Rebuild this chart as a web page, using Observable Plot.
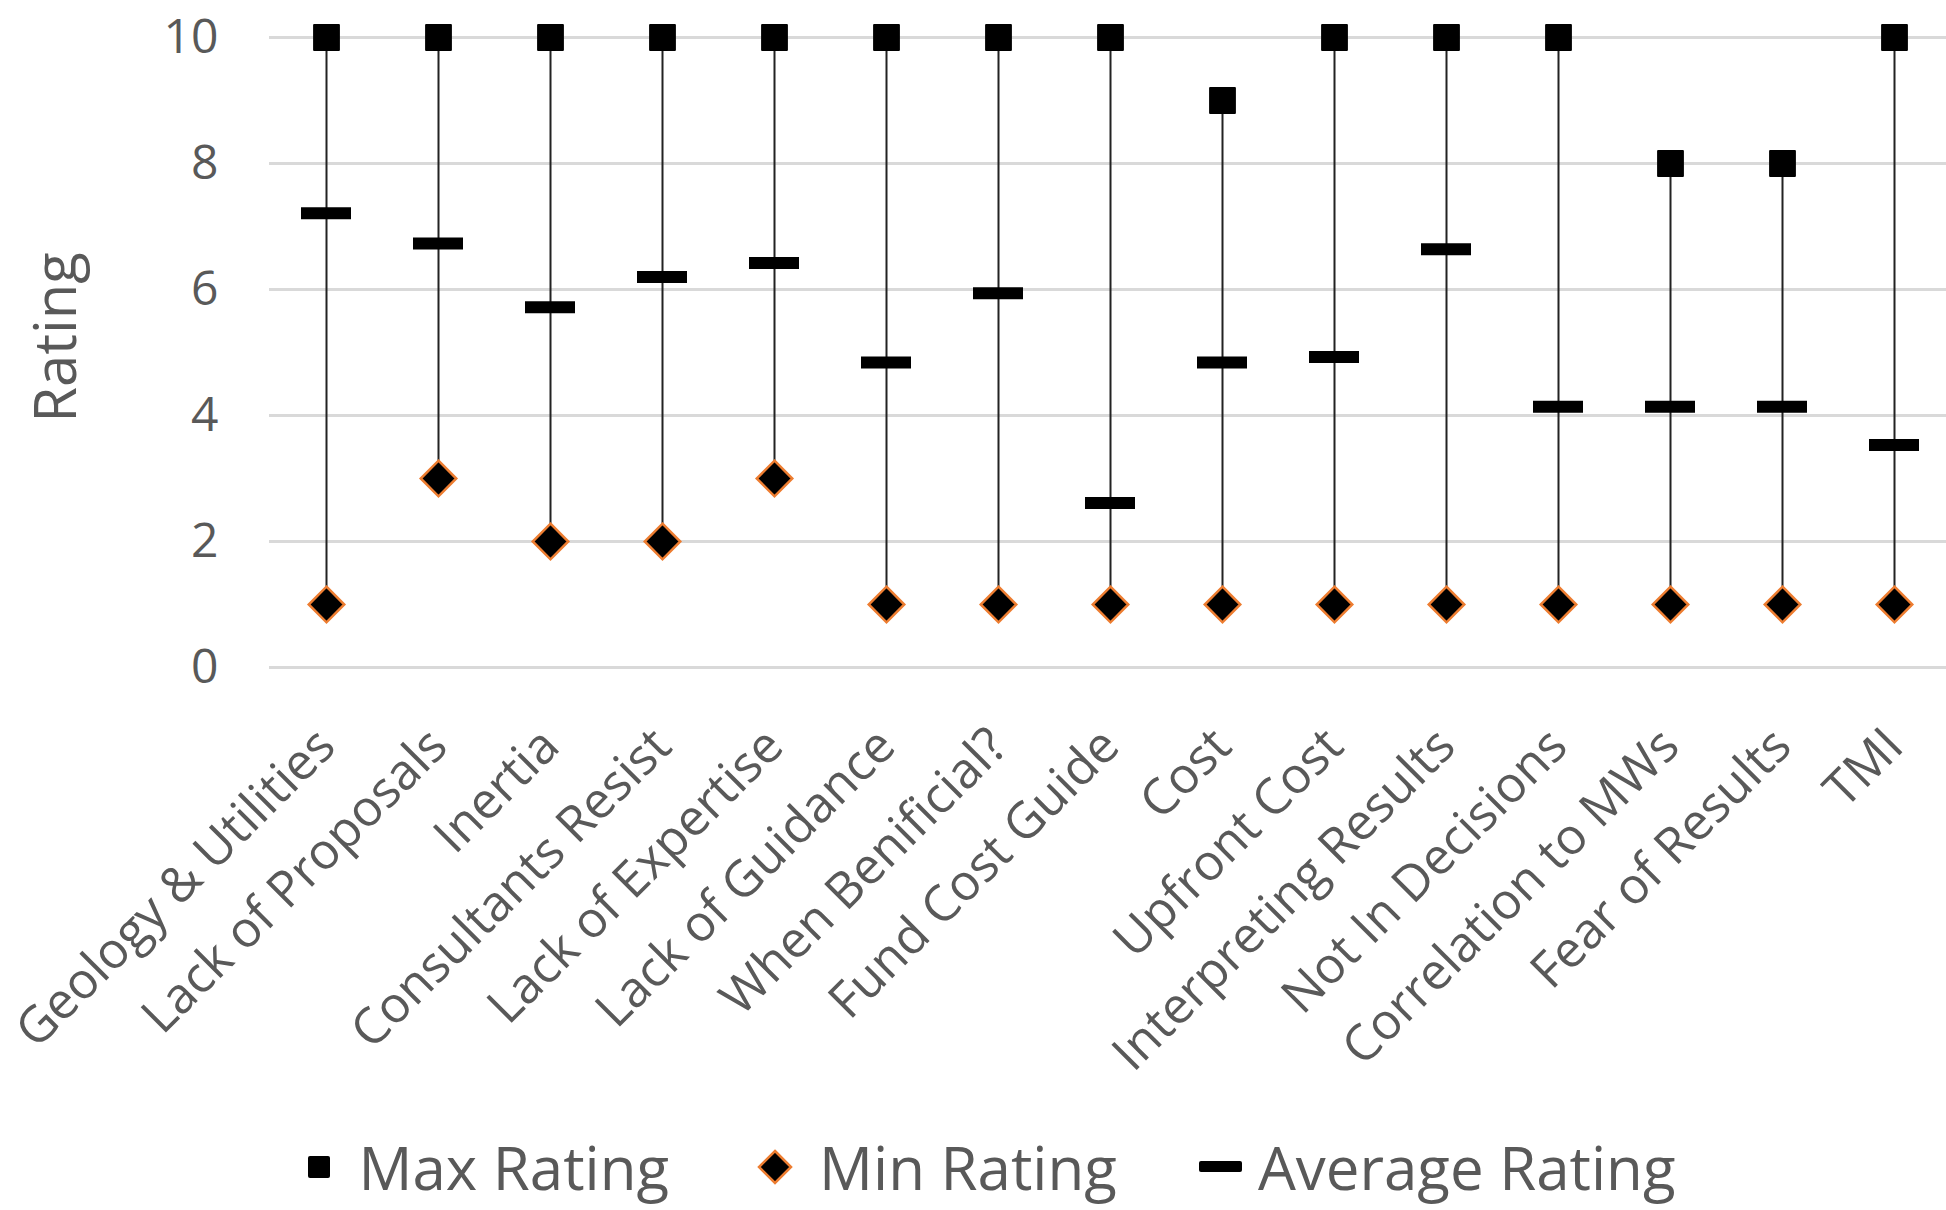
<!DOCTYPE html>
<html>
<head>
<meta charset="utf-8">
<script src="https://cdn.jsdelivr.net/npm/d3@7"></script>
<script src="https://cdn.jsdelivr.net/npm/@observablehq/plot@0.6"></script>
<style>
  html, body { margin: 0; padding: 0; background: #fff; }
  body { width: 1946px; height: 1210px; position: relative; overflow: hidden; font-family: "Open Sans", sans-serif; }
  #legend { position: absolute; left: 0; top: 1128px; width: 1946px; height: 78px; display: flex; align-items: center; justify-content: center; padding-left: 36px; box-sizing: border-box; color: #595959; font-size: 60px; line-height: 1.1; }
  #legend .item { display: flex; align-items: center; }
  #legend svg { display: block; }
</style>
</head>
<body>
<div id="chart"></div>
<div id="legend"></div>
<script>
const categories = ["Geology & Utilities", "Lack of Proposals", "Inertia", "Consultants Resist", "Lack of Expertise", "Lack of Guidance", "When Benificial?", "Fund Cost Guide", "Cost", "Upfront Cost", "Interpreting Results", "Not In Decisions", "Correlation to MWs", "Fear of Results", "TMI"];
const maxRating = [10, 10, 10, 10, 10, 10, 10, 10, 9, 10, 10, 10, 8, 8, 10];
const minRating = [1, 3, 2, 2, 3, 1, 1, 1, 1, 1, 1, 1, 1, 1, 1];
const avgRating = [7.21, 6.73, 5.72, 6.2, 6.42, 4.84, 5.94, 2.61, 4.84, 4.93, 6.64, 4.14, 4.14, 4.14, 3.53];
const yTicks = [0, 2, 4, 6, 8, 10];
const seriesNames = ["Max Rating", "Min Rating", "Average Rating"];

const data = categories.map((c, i) => ({cat: c, max: maxRating[i], min: minRating[i], avg: avgRating[i]}));

const textColor = "#595959";
const orange = "#ED7D31";

const chart = Plot.plot({
  width: 1946,
  height: 1120,
  marginTop: 37,
  marginBottom: 453,
  marginLeft: 269,
  marginRight: 0,
  style: {fontFamily: "'Open Sans', sans-serif", background: "#fff", overflow: "visible"},
  x: {domain: categories, range: [269, 1950], padding: 0},
  y: {domain: [0, 10]},
  marks: [
    Plot.ruleY(yTicks, {y: d => d, stroke: "#d9d9d9", strokeWidth: 3}),
    Plot.axisY({ticks: yTicks, tickSize: 0, tickPadding: 51, fontSize: 48, fill: textColor, label: null}),
    Plot.axisY({ticks: [], tickSize: 0, label: "Rating", labelAnchor: "center", labelArrow: "none", labelOffset: 235, fontSize: 58, fill: textColor}),
    Plot.axisX({tickSize: 0, tickRotate: -45, tickPadding: 70, fontSize: 50, fill: textColor, label: null}),
    Plot.ruleX(data, {x: "cat", y1: "min", y2: "max", stroke: "#222", strokeWidth: 2}),
    Plot.tickY(data, {x: "cat", y: "avg", stroke: "#000", strokeWidth: 12, insetLeft: 31, insetRight: 31}),
    Plot.dot(data, {x: "cat", y: "max", symbol: "square", r: 14, fill: "#000", stroke: "#000", strokeWidth: 2, strokeLinejoin: "round"}),
    Plot.dot(data, {x: "cat", y: "min", symbol: "diamond2", r: 16, fill: "#000", stroke: orange, strokeWidth: 2.5})
  ]
});
document.getElementById("chart").appendChild(chart);

// shift the y-axis title up slightly to match the reference (wrap, keeping its own transform)
const yLabel = chart.querySelector('[aria-label="y-axis label"]');
if (yLabel) {
  const wrap = document.createElementNS("http://www.w3.org/2000/svg", "g");
  wrap.setAttribute("transform", "translate(0,-15)");
  yLabel.parentNode.insertBefore(wrap, yLabel);
  wrap.appendChild(yLabel);
}

// Legend
const legend = document.getElementById("legend");
const symbols = [
  `<svg width="24" height="24"><rect x="1" y="1" width="22" height="22" rx="2" fill="#000"/></svg>`,
  `<svg width="36" height="36"><path d="M18 2 L34 18 L18 34 L2 18 Z" fill="#000" stroke="${orange}" stroke-width="2.5"/></svg>`,
  `<svg width="43" height="12"><rect x="0" y="0" width="43" height="11" rx="2" fill="#000"/></svg>`
];
const gapsBefore = [0, 88, 82];
const gapsInner = [28, 26, 16];
seriesNames.forEach((name, i) => {
  const item = document.createElement("div");
  item.className = "item";
  item.style.marginLeft = gapsBefore[i] + "px";
  item.innerHTML = symbols[i] + `<span style="margin-left:${gapsInner[i]}px">${name}</span>`;
  legend.appendChild(item);
});
</script>
</body>
</html>
